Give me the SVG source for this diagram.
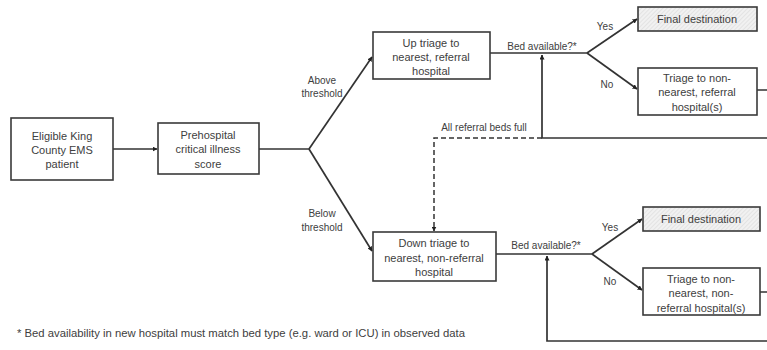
<svg xmlns="http://www.w3.org/2000/svg" width="767" height="350" viewBox="0 0 767 350">
<style>
.box{fill:#fff;stroke:#3a3a3a;stroke-width:1.6}
.final{fill:url(#hatch);stroke:#3a3a3a;stroke-width:1.6}
.t{font-family:"Liberation Sans",Arial,sans-serif;font-size:11px;fill:#404040;text-anchor:middle}
.lbl{font-family:"Liberation Sans",Arial,sans-serif;font-size:10px;fill:#404040;text-anchor:middle}
.c{fill:none;stroke:#333;stroke-width:1.7}
.d{fill:none;stroke:#333;stroke-width:1.5;stroke-dasharray:5 3}
</style>
<defs>
<pattern id="hatch" width="3" height="3" patternUnits="userSpaceOnUse" patternTransform="rotate(45)">
<rect width="3" height="3" fill="#f1f1f1"/>
<line x1="0" y1="0" x2="0" y2="3" stroke="#d6d6d6" stroke-width="1"/>
</pattern>
<marker id="ah" viewBox="0 0 10 10" refX="9" refY="5" markerWidth="5" markerHeight="5" markerUnits="userSpaceOnUse" orient="auto">
<path d="M0,0 L10,5 L0,10 z" fill="#222"/>
</marker>
</defs>
<rect width="767" height="350" fill="#fff"/>
<g id="connectors">
<path class="c" d="M113,149 H157" marker-end="url(#ah)"/>
<path class="c" d="M259,149 H309"/>
<path class="c" d="M309,149 L372,57" marker-end="url(#ah)"/>
<path class="c" d="M309,149 L372,251" marker-end="url(#ah)"/>
<path class="c" d="M490,53 H587"/>
<path class="c" d="M587,53 L637,19" marker-end="url(#ah)"/>
<path class="c" d="M587,53 L637,89" marker-end="url(#ah)"/>
<path class="c" d="M757,90 H780 V138 H542 V55" marker-end="url(#ah)"/>
<path class="d" d="M542,138 H434 V231" marker-end="url(#ah)"/>
<path class="c" d="M496,254 H592"/>
<path class="c" d="M592,254 L642,219" marker-end="url(#ah)"/>
<path class="c" d="M592,254 L642,290" marker-end="url(#ah)"/>
<path class="c" d="M760,292 H780 V341 H547 V256" marker-end="url(#ah)"/>
<text class="lbl" x="322" y="84">Above</text>
<text class="lbl" x="322" y="97">threshold</text>
<text class="lbl" x="322" y="217">Below</text>
<text class="lbl" x="322" y="231">threshold</text>
<text class="lbl" x="542" y="50">Bed available?*</text>
<text class="lbl" x="605" y="30">Yes</text>
<text class="lbl" x="607" y="88">No</text>
<text class="lbl" x="484" y="131">All referral beds full</text>
<text class="lbl" x="546" y="249">Bed available?*</text>
<text class="lbl" x="610" y="231">Yes</text>
<text class="lbl" x="610" y="285">No</text>
</g>
<g id="patient">
<rect class="box" x="11" y="118" width="102" height="62"/>
<text class="t" x="62" y="140">Eligible King</text>
<text class="t" x="62" y="154">County EMS</text>
<text class="t" x="62" y="168">patient</text>
</g>
<g id="score">
<rect class="box" x="158" y="123" width="101" height="51"/>
<text class="t" x="208" y="139">Prehospital</text>
<text class="t" x="208" y="153">critical illness</text>
<text class="t" x="208" y="168">score</text>
</g>
<g id="up-triage">
<rect class="box" x="373" y="32" width="117" height="47"/>
<text class="t" x="431" y="47">Up triage to</text>
<text class="t" x="431" y="61">nearest, referral</text>
<text class="t" x="431" y="75">hospital</text>
</g>
<g id="final-top">
<rect class="final" x="638" y="7" width="119" height="24"/>
<text class="t" x="697" y="23">Final destination</text>
</g>
<g id="triage-top">
<rect class="box" x="638" y="68" width="119" height="47"/>
<text class="t" x="697" y="82">Triage to non-</text>
<text class="t" x="697" y="96">nearest, referral</text>
<text class="t" x="697" y="111">hospital(s)</text>
</g>
<g id="down-triage">
<rect class="box" x="373" y="232" width="123" height="49"/>
<text class="t" x="434" y="247">Down triage to</text>
<text class="t" x="434" y="262">nearest, non-referral</text>
<text class="t" x="434" y="276">hospital</text>
</g>
<g id="final-bottom">
<rect class="final" x="643" y="207" width="117" height="24"/>
<text class="t" x="701" y="223">Final destination</text>
</g>
<g id="triage-bottom">
<rect class="box" x="643" y="268" width="117" height="47"/>
<text class="t" x="701" y="283">Triage to non-</text>
<text class="t" x="701" y="297">nearest, non-</text>
<text class="t" x="701" y="312">referral hospital(s)</text>
</g>
<text x="17" y="337" font-family="Liberation Sans, Arial, sans-serif" font-size="10" fill="#404040" textLength="448" lengthAdjust="spacingAndGlyphs">* Bed availability in new hospital must match bed type (e.g. ward or ICU) in observed data</text>
</svg>
